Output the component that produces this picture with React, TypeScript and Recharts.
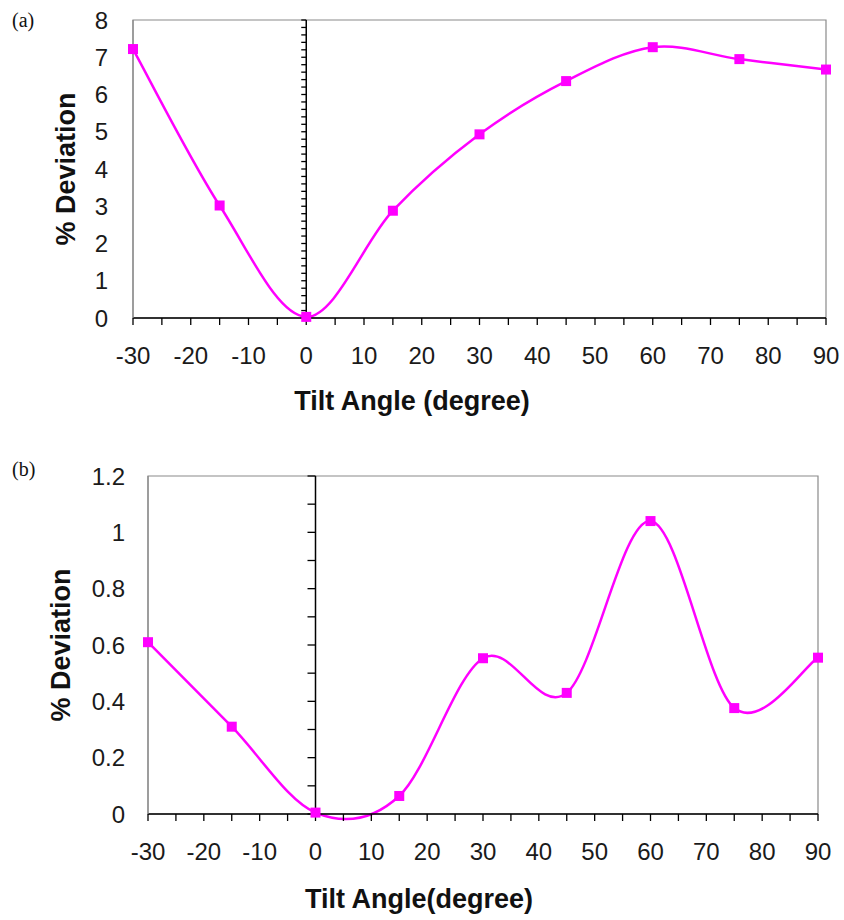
import React from 'react';
import {
  ComposedChart,
  Line,
  Scatter,
  XAxis,
  YAxis,
  ReferenceLine,
  ReferenceArea,
  Label
} from 'recharts';

// tilt angles (degree) shared by both panels
const angles = [-30, -15, 0, 15, 30, 45, 60, 75, 90];
// panel (a) % deviation
const deviationA = [7.22, 3.02, 0.03, 2.88, 4.93, 6.36, 7.27, 6.95, 6.67];
// panel (b) % deviation
const deviationB = [0.61, 0.31, 0.005, 0.064, 0.553, 0.43, 1.04, 0.376, 0.555];

const xTicks = [-30, -25, -20, -15, -10, -5, 0, 5, 10, 15, 20, 25, 30, 35, 40, 45, 50, 55, 60, 65, 70, 75, 80, 85, 90];
const yTicksA = [0, 1, 2, 3, 4, 5, 6, 7, 8];
const yMinorA = [
  0, 0.2, 0.4, 0.6, 0.8, 1, 1.2, 1.4, 1.6, 1.8, 2, 2.2, 2.4, 2.6, 2.8, 3, 3.2, 3.4, 3.6, 3.8,
  4, 4.2, 4.4, 4.6, 4.8, 5, 5.2, 5.4, 5.6, 5.8, 6, 6.2, 6.4, 6.6, 6.8, 7, 7.2, 7.4, 7.6, 7.8, 8
];
const yTicksB = [0, 0.2, 0.4, 0.6, 0.8, 1, 1.2];
const yMinorB = [0, 0.1, 0.2, 0.3, 0.4, 0.5, 0.6, 0.7, 0.8, 0.9, 1, 1.1, 1.2];

const dataA = angles.map((a, i) => ({ angle: a, dev: deviationA[i] }));
const dataB = angles.map((a, i) => ({ angle: a, dev: deviationB[i] }));
const axisTicksA = yMinorA.map((v) => ({ angle: 0, dev: v }));
const axisTicksB = yMinorB.map((v) => ({ angle: 0, dev: v }));

const MAGENTA = '#FF00FF';
const SANS = '"Liberation Sans", Arial, sans-serif';
const tickStyle = { fontSize: 24, fill: '#1a1a1a', fontFamily: SANS };
const titleStyle = { fontSize: 27, fontWeight: 'bold' as const, fill: '#111', fontFamily: SANS };

// Excel style smoothed line (Catmull-Rom as cubic bezier)
const excelSmooth = (context: any) => {
  let pts: number[][] = [];
  return {
    areaStart() {},
    areaEnd() {},
    lineStart() { pts = []; },
    point(x: number, y: number) { pts.push([+x, +y]); },
    lineEnd() {
      const n = pts.length;
      if (!n) return;
      context.moveTo(pts[0][0], pts[0][1]);
      for (let i = 0; i < n - 1; i++) {
        const p0 = pts[Math.max(0, i - 1)];
        const p1 = pts[i];
        const p2 = pts[i + 1];
        const p3 = pts[Math.min(n - 1, i + 2)];
        context.bezierCurveTo(
          p1[0] + (p2[0] - p0[0]) / 6, p1[1] + (p2[1] - p0[1]) / 6,
          p2[0] - (p3[0] - p1[0]) / 6, p2[1] - (p3[1] - p1[1]) / 6,
          p2[0], p2[1]
        );
      }
    },
  };
};

const SquareDot = (props: any) => {
  const { cx, cy } = props;
  if (cx == null || cy == null) return null;
  return <rect x={cx - 5} y={cy - 5} width={10} height={10} fill={MAGENTA} />;
};

const axisTick = (len: number) => (props: any) => (
  <line x1={props.cx - len} y1={props.cy} x2={props.cx} y2={props.cy} stroke="#000" strokeWidth={1.3} />
);

const fmtX = (v: number) => (v % 10 === 0 ? String(v) : '');

function Panel({ data, ticks, minor, yMax, tickLen, height, margin, yWidth, yMargin, xHeight, yTitle, xTitle, xTitleText }: any) {
  return (
    <ComposedChart width={844} height={height} data={data} margin={margin}>
      <ReferenceArea x1={-30} x2={90} y1={0} y2={yMax} fill="none" stroke="#8a8a8a" strokeWidth={1.2} />
      <XAxis
        dataKey="angle"
        type="number"
        domain={[-30, 90]}
        ticks={xTicks}
        interval={0}
        tickFormatter={fmtX}
        tickSize={7}
        tickMargin={22}
        height={xHeight}
        tick={tickStyle}
        axisLine={{ stroke: '#000', strokeWidth: 1.5 }}
        tickLine={{ stroke: '#000', strokeWidth: 1.3 }}
        label={
          <Label
            content={() => (
              <text x={xTitle[0]} y={xTitle[1]} textAnchor="middle" style={titleStyle}>
                {xTitleText}
              </text>
            )}
          />
        }
      />
      <YAxis
        type="number"
        domain={[0, yMax]}
        ticks={ticks}
        interval={0}
        width={yWidth}
        tickMargin={yMargin}
        tick={tickStyle}
        tickLine={false}
        axisLine={{ stroke: '#8a8a8a', strokeWidth: 1.2 }}
        label={
          <Label
            content={() => (
              <text
                x={yTitle[0]}
                y={yTitle[1]}
                transform={`rotate(-90, ${yTitle[0]}, ${yTitle[1]})`}
                textAnchor="middle"
                style={titleStyle}
              >
                % Deviation
              </text>
            )}
          />
        }
      />
      <ReferenceLine x={0} stroke="#000" strokeWidth={1.5} />
      <Scatter data={minor} dataKey="dev" shape={axisTick(tickLen)} isAnimationActive={false} />
      <Line
        type={excelSmooth as any}
        dataKey="dev"
        stroke={MAGENTA}
        strokeWidth={2.5}
        dot={<SquareDot />}
        activeDot={false}
        isAnimationActive={false}
      />
    </ComposedChart>
  );
}

export default function App() {
  const panelLabel = { position: 'absolute' as const, left: 12, fontSize: 20, lineHeight: '20px', fontFamily: '"Liberation Serif", "Times New Roman", serif', color: '#111' };
  return (
    <div style={{ position: 'absolute', left: 0, top: 0, width: 844, height: 920, background: '#fff' }}>
      <div style={{ position: 'absolute', left: 0, top: 0 }}>
        <Panel
          data={dataA}
          ticks={yTicksA}
          minor={axisTicksA}
          yMax={8}
          tickLen={5}
          height={440}
          margin={{ top: 20, right: 18, left: 0, bottom: 22 }}
          yWidth={133}
          yMargin={19}
          xHeight={100}
          yTitle={[75, 169]}
          xTitle={[412, 410]}
          xTitleText="Tilt Angle (degree)"
        />
      </div>
      <div style={{ position: 'absolute', left: 0, top: 440 }}>
        <Panel
          data={dataB}
          ticks={yTicksB}
          minor={axisTicksB}
          yMax={1.2}
          tickLen={8}
          height={480}
          margin={{ top: 36, right: 26, left: 0, bottom: 16 }}
          yWidth={148}
          yMargin={17}
          xHeight={90}
          yTitle={[70, 205]}
          xTitle={[419, 468]}
          xTitleText="Tilt Angle(degree)"
        />
      </div>
      <div style={{ ...panelLabel, top: 10 }}>(a)</div>
      <div style={{ ...panelLabel, top: 459 }}>(b)</div>
    </div>
  );
}
